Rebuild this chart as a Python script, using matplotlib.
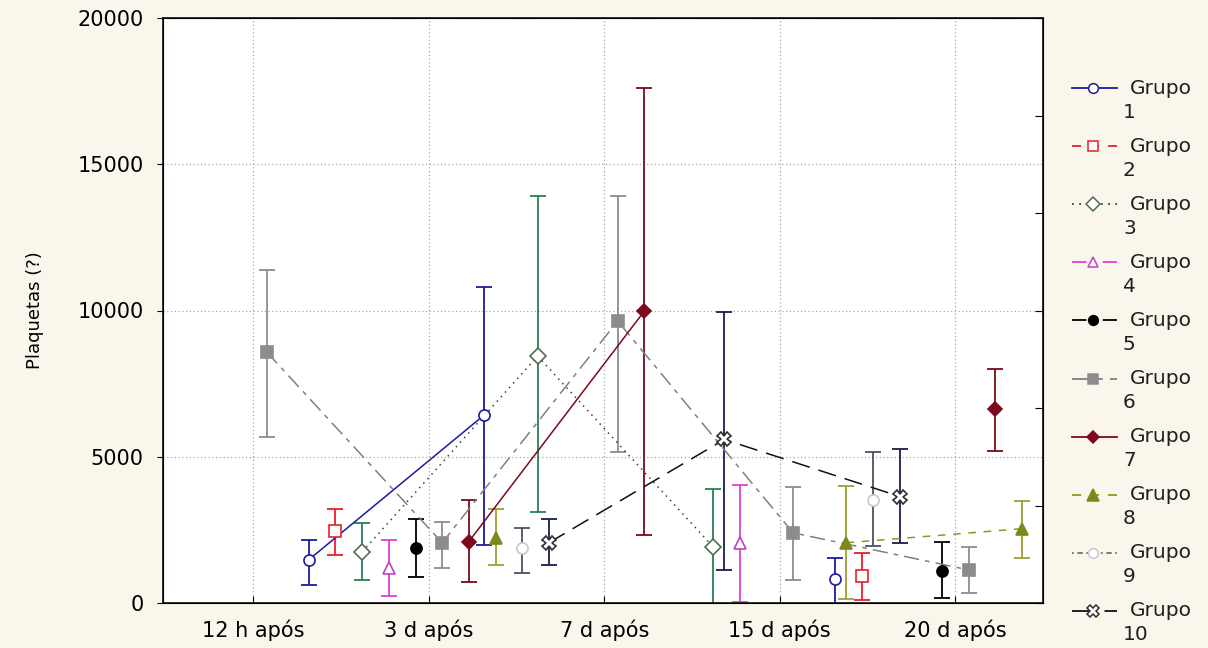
import numpy as np
import matplotlib
matplotlib.use("Agg")
from matplotlib import pyplot as plt

nan = np.nan

# time points on the x axis
categorias = ["12 h após", "3 d após", "7 d após", "15 d após", "20 d após"]

# mean and confidence limits per group (NaN = no value)
grupo1 = [nan, 1480, 6430, nan, 820]
grupo1_sup = [nan, 2160, 10800, nan, 1540]
grupo1_inf = [nan, 620, 1990, nan, -100]

grupo2 = [nan, 2470, nan, nan, 925]
grupo2_sup = [nan, 3220, nan, nan, 1715]
grupo2_inf = [nan, 1650, nan, nan, 100]

grupo3 = [nan, 1750, 8440, 1920, nan]
grupo3_sup = [nan, 2740, 13900, 3910, nan]
grupo3_inf = [nan, 790, 3120, -150, nan]

grupo4 = [nan, 1200, nan, 2060, nan]
grupo4_sup = [nan, 2160, nan, 4050, nan]
grupo4_inf = [nan, 240, nan, 30, nan]

grupo5 = [nan, 1890, nan, nan, 1100]
grupo5_sup = [nan, 2880, nan, nan, 2090]
grupo5_inf = [nan, 890, nan, nan, 170]

grupo6 = [8580, 2060, 9640, 2400, 1130]
grupo6_sup = [11390, 2780, 13930, 3980, 1920]
grupo6_inf = [5660, 1200, 5150, 790, 340]

grupo7 = [nan, 2100, 9980, nan, 6620]
grupo7_sup = [nan, 3530, 17600, nan, 7990]
grupo7_inf = [nan, 720, 2330, nan, 5210]

grupo8 = [nan, 2230, nan, 2060, 2540]
grupo8_sup = [nan, 3220, nan, 4010, 3500]
grupo8_inf = [nan, 1300, nan, 140, 1540]

grupo9 = [nan, 1890, nan, 3530, nan]
grupo9_sup = [nan, 2570, nan, 5150, nan]
grupo9_inf = [nan, 1030, nan, 1960, nan]

grupo10 = [nan, 2060, 5590, 3640, nan]
grupo10_sup = [nan, 2880, 9950, 5280, nan]
grupo10_inf = [nan, 1300, 1130, 2060, nan]

rotulos = ["Grupo 1", "Grupo 2", "Grupo 3", "Grupo 4", "Grupo 5",
           "Grupo 6", "Grupo 7", "Grupo 8", "Grupo 9", "Grupo 10"]

medias = [grupo1, grupo2, grupo3, grupo4, grupo5, grupo6, grupo7, grupo8, grupo9, grupo10]
sups = [grupo1_sup, grupo2_sup, grupo3_sup, grupo4_sup, grupo5_sup,
        grupo6_sup, grupo7_sup, grupo8_sup, grupo9_sup, grupo10_sup]
infs = [grupo1_inf, grupo2_inf, grupo3_inf, grupo4_inf, grupo5_inf,
        grupo6_inf, grupo7_inf, grupo8_inf, grupo9_inf, grupo10_inf]

# styles: (errorbar colour, line colour, linestyle, marker, marker face, marker edge)
estilos = [
    ('#1c1c9c', '#1c1c9c', '-', 'o', 'white', '#1c1c9c'),
    ('#e8202c', '#e8202c', (0, (5, 5)), 's', 'white', '#e8202c'),
    ('#2a8050', '#404040', (0, (1, 3)), 'D', 'white', '#507050'),
    ('#e040d8', '#e040d8', (0, (8, 4, 1, 4)), '^', 'white', '#c040c0'),
    ('#000000', '#000000', (0, (8, 4, 1, 4)), 'o', '#000000', '#000000'),
    ('#8c8c8c', '#808080', (0, (10, 4, 3, 4)), 's', '#8c8c8c', '#8c8c8c'),
    ('#7a0a1c', '#7a0a1c', '-', 'D', '#7a0a1c', '#7a0a1c'),
    ('#9ea030', '#8a9a1a', (0, (5, 5)), '^', '#7c8a1c', '#7c8a1c'),
    ('#505060', '#707070', (0, (1, 2, 3, 2)), 'o', 'white', '#c8c8d0'),
    ('#1c1c50', '#101010', (0, (12, 6)), 'X', 'white', '#303030'),
]
tamanhos = [8, 8, 8, 8, 8, 8, 7, 9, 8, 10]

fig = plt.figure(figsize=(12.08, 6.48), dpi=100)
fig.patch.set_facecolor('#faf6eb')
ax = fig.add_axes([163 / 1208, 1 - 603 / 648, 880 / 1208, 585 / 648])
ax.set_facecolor('white')

x = np.arange(len(categorias))
passo = 0.152
for k in range(10):
    cor_barra, cor_linha, ls, mk, mfc, mec = estilos[k]
    m = np.array(medias[k], dtype=float)
    s = np.array(sups[k], dtype=float)
    i = np.array(infs[k], dtype=float)
    xk = x + (k - 4.5) * passo
    ax.errorbar(xk, m, yerr=[m - i, s - m], fmt='none', ecolor=cor_barra,
                elinewidth=1.3, capsize=6, capthick=1.3, zorder=2)
    ax.plot(xk, m, linestyle=ls, color=cor_linha, linewidth=1.1, zorder=3)
    ax.plot(xk, m, linestyle='none', marker=mk, markersize=tamanhos[k],
            markerfacecolor=mfc, markeredgecolor=mec, markeredgewidth=1.2, zorder=4)

ax.set_xlim(-0.515, 4.5)
ax.set_ylim(0, 20000)
ax.set_xticks(x)
ax.set_xticklabels(categorias, fontsize=15)
ax.set_yticks([0, 5000, 10000, 15000, 20000])
ax.tick_params(axis='y', labelsize=15, direction='out', length=4, pad=10)
ax.tick_params(axis='x', direction='in', length=5, pad=12)
ax.grid(True, linestyle=(0, (1, 2)), color='#a8a8a8', linewidth=0.9)
ax.set_ylabel('Plaquetas (?)', fontsize=13, labelpad=24)
for sp in ax.spines.values():
    sp.set_linewidth(1.3)
    sp.set_color('#202020')

# right axis with its own tick spacing (no labels)
ax2 = ax.twinx()
ax2.set_ylim(0, 20000)
ax2.set_yticks(np.linspace(0, 20000, 7))
ax2.tick_params(axis='y', direction='in', length=6, labelright=False)

# legend drawn by hand so the group number wraps under "Grupo"
lax = fig.add_axes([0, 0, 1, 1], facecolor='none')
lax.set_xlim(0, 1208)
lax.set_ylim(648, 0)
lax.axis('off')
for k in range(10):
    cor_barra, cor_linha, ls, mk, mfc, mec = estilos[k]
    y0 = 88 + 58.1 * k
    lax.plot([1072, 1117], [y0, y0], linestyle=ls, color=cor_linha, linewidth=1.3)
    lax.plot([1093], [y0], marker=mk, markersize=tamanhos[k] - 1,
             markerfacecolor=mfc, markeredgecolor=mec, markeredgewidth=1.1)
    nome, num = rotulos[k].split()
    lax.text(1130, y0, nome, fontsize=14.5, va='center', ha='left', color='#202020')
    lax.text(1123, y0 + 24, num, fontsize=14.5, va='center', ha='left', color='#202020')

fig.savefig('out.png', dpi=100, facecolor=fig.get_facecolor())
